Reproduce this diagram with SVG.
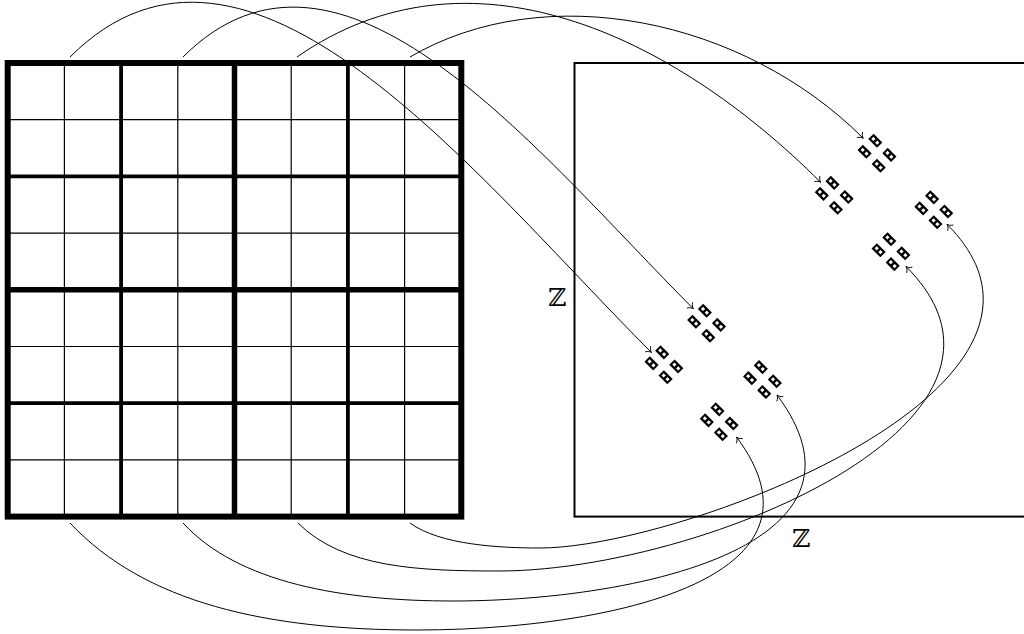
<svg xmlns="http://www.w3.org/2000/svg" xmlns:xlink="http://www.w3.org/1999/xlink" width="1024" height="634" viewBox="0 0 1024 634">
<style>
.thin{stroke:#000;stroke-width:1.2;fill:none}
.med{stroke:#000;stroke-width:3.8;fill:none}
.thick{stroke:#000;stroke-width:5.5;fill:none}
.outer{stroke:#000;stroke-width:6;fill:none}
.arc{stroke:#000;stroke-width:1;fill:none;marker-end:url(#tip)}
.lbl{font-family:"DejaVu Serif","Liberation Serif",serif;font-size:25px;fill:#000;text-anchor:middle}
</style>
<defs>
<marker id="tip" markerUnits="userSpaceOnUse" markerWidth="12" markerHeight="12" viewBox="-7 -6 8 12" refX="0" refY="0" orient="auto" overflow="visible">
<path d="M -5 -4 C -3.5 -1.5 -1.5 -0.4 0 0 C -1.5 0.4 -3.5 1.5 -5 4" fill="none" stroke="#000" stroke-width="0.9"/>
</marker>
<g id="tile">
<rect x="-6.2" y="-3.8" width="12.4" height="7.6" fill="#000" transform="rotate(45)"/>
<rect x="-4.2" y="-1.5" width="3" height="3" fill="#fff" transform="rotate(45)"/>
<rect x="1.2" y="-1.5" width="3" height="3" fill="#fff" transform="rotate(45)"/>
</g>
<g id="cl">
<use xlink:href="#tile" x="-1.7" y="-12.5"/>
<use xlink:href="#tile" x="-12.4" y="-1.5"/>
<use xlink:href="#tile" x="12.4" y="1.6"/>
<use xlink:href="#tile" x="1.7" y="12.4"/>
</g>
</defs>
<rect width="1024" height="634" fill="#fff"/>
<g id="grid">
<path class="thin" d="M64.4 63V516.6M177.8 63V516.6M291.2 63V516.6M404.6 63V516.6M7.7 119.7H461.3M7.7 233.1H461.3M7.7 346.5H461.3M7.7 459.9H461.3"/>
<path class="med" d="M121.1 63V516.6M347.9 63V516.6M7.7 176.4H461.3M7.7 403.2H461.3"/>
<path class="thick" d="M234.5 63V516.6M7.7 289.8H461.3"/>
<rect class="outer" x="7.7" y="63" width="453.6" height="453.6"/>
</g>
<g id="plane">
<rect x="574.5" y="63" width="460" height="453.6" fill="none" stroke="#000" stroke-width="2"/>
<text class="lbl" x="557" y="306">ℤ</text>
<text class="lbl" x="801" y="547">ℤ</text>
</g>
<g id="cluster1"><use xlink:href="#cl" x="706.6" y="323.3"/></g>
<g id="cluster2"><use xlink:href="#cl" x="663.9" y="364.9"/></g>
<g id="cluster3"><use xlink:href="#cl" x="762.5" y="379.6"/></g>
<g id="cluster4"><use xlink:href="#cl" x="719.2" y="421.9"/></g>
<g id="cluster5"><use xlink:href="#cl" x="877" y="153.3"/></g>
<g id="cluster6"><use xlink:href="#cl" x="834.2" y="195.4"/></g>
<g id="cluster7"><use xlink:href="#cl" x="933.8" y="209.9"/></g>
<g id="cluster8"><use xlink:href="#cl" x="891" y="251.7"/></g>
<g id="connectors">
<path class="arc" d="M70 57C247.5 -120.5 474 175 651.5 352.5"/>
<path class="arc" d="M183 57C340.4 -100.4 536 151 693.3 308.7"/>
<path class="arc" d="M297 57C468 -62 671.5 33.5 820.7 182.3"/>
<path class="arc" d="M410 57C545 -22 743 18 863.3 138.3"/>
<path class="arc" d="M70 523C145 603 267 630 417 630C600 630 845 582 736.5 437"/>
<path class="arc" d="M183 523C238 583 343 601 453 601C633 601 891 547 777 395"/>
<path class="arc" d="M298 523C343 568 419 571 499 571C699 571 1061.5 421.5 906 266.5"/>
<path class="arc" d="M410 523C440 545 500 548 540 548C680 548 1109.6 386.6 947 224.3"/>
</g>
</svg>
